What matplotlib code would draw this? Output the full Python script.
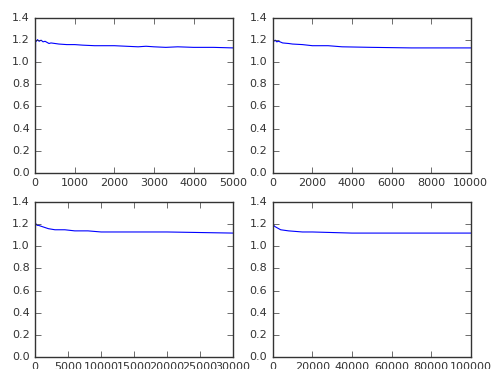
import matplotlib
matplotlib.use('Agg')
import matplotlib.pyplot as plt

# running values (x = iteration, y = estimate)
x_5k = [0, 10, 30, 60, 100, 150, 200, 250, 300, 350, 400, 500, 600, 800, 1000,
        1200, 1500, 1800, 2000, 2300, 2600, 2800, 3000, 3300, 3600, 4000, 4500, 5000]
y_5k = [0.0, 1.20, 1.19, 1.205, 1.19, 1.20, 1.185, 1.19, 1.18, 1.17, 1.175, 1.17, 1.165,
        1.16, 1.16, 1.155, 1.15, 1.15, 1.15, 1.145, 1.14, 1.145, 1.14, 1.135, 1.14, 1.135,
        1.135, 1.13]

x_10k = [0, 20, 60, 120, 200, 300, 500, 800, 1000, 1500, 2000, 2800, 3500,
         5000, 7000, 10000]
y_10k = [0.0, 1.20, 1.19, 1.20, 1.185, 1.19, 1.175, 1.17, 1.165, 1.16, 1.15, 1.15,
         1.14, 1.135, 1.13, 1.13]

x_30k = [0, 50, 150, 300, 500, 1000, 1500, 2000, 3000, 4500, 6000, 8000, 10000,
         15000, 20000, 25000, 30000]
y_30k = [0.0, 1.21, 1.20, 1.19, 1.19, 1.18, 1.17, 1.16, 1.15, 1.15, 1.14, 1.14,
         1.13, 1.13, 1.13, 1.125, 1.12]

x_100k = [0, 100, 500, 1000, 2000, 4000, 8000, 15000, 20000, 30000, 40000,
          60000, 80000, 100000]
y_100k = [0.0, 1.21, 1.19, 1.18, 1.17, 1.15, 1.14, 1.13, 1.13, 1.125, 1.12,
          1.12, 1.12, 1.12]

panels = [(x_5k, y_5k), (x_10k, y_10k), (x_30k, y_30k), (x_100k, y_100k)]

plt.style.use('classic')
plt.rcParams['font.size'] = 8

fig, axes = plt.subplots(2, 2, figsize=(4.95, 3.69), dpi=100)
fig.subplots_adjust(left=0.071, right=0.951, top=0.951, bottom=0.033,
                    wspace=0.2, hspace=0.19)

for ax, (xs, ys) in zip(axes.flat, panels):
    ax.plot(xs, ys, color='b', linewidth=0.8)
    ax.set_xlim(0, xs[-1])
    ax.set_ylim(0, 1.4)
    ax.tick_params(labelsize=8, colors='#333333')
    for s in ax.spines.values():
        s.set_edgecolor('#333333')

fig.savefig('out.png', dpi=100)
